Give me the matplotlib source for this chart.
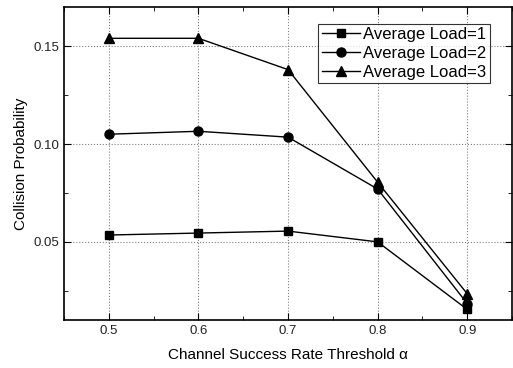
import numpy as np
import matplotlib.pyplot as plt
from matplotlib.ticker import MultipleLocator

plt.rcParams['font.family'] = ['Liberation Sans', 'DejaVu Sans']

# threshold values and collision probabilities per average load
alpha = [0.5, 0.6, 0.7, 0.8, 0.9]
load1 = [0.0535, 0.0545, 0.0555, 0.0500, 0.0155]
load2 = [0.1050, 0.1065, 0.1035, 0.0770, 0.0185]
load3 = [0.1540, 0.1540, 0.1380, 0.0805, 0.0235]

fig = plt.figure(figsize=(5.13, 3.68), dpi=100)
ax = fig.add_axes([0.125, 0.13, 0.873, 0.851])

ax.plot(alpha, load1, color='black', lw=1, marker='s', ms=6, label='Average Load=1')
ax.plot(alpha, load2, color='black', lw=1, marker='o', ms=6.5, label='Average Load=2')
ax.plot(alpha, load3, color='black', lw=1, marker='^', ms=7, label='Average Load=3')

ax.set_xlim(0.45, 0.95)
ax.set_ylim(0.01, 0.17)
ax.set_xticks([0.5, 0.6, 0.7, 0.8, 0.9])
ax.set_yticks([0.05, 0.10, 0.15])
ax.set_yticklabels(['0.05', '0.10', '0.15'])
ax.xaxis.set_minor_locator(MultipleLocator(0.05))
ax.yaxis.set_minor_locator(MultipleLocator(0.025))
ax.tick_params(which='both', direction='in', top=True, right=True,
               labelsize=9.5, labelcolor='#222222')
ax.tick_params(which='major', length=5)
ax.tick_params(which='minor', length=3)
ax.grid(True, which='major', linestyle=':', color='gray', lw=0.8)
for s in ax.spines.values():
    s.set_linewidth(1.2)

ax.set_xlabel('Channel Success Rate Threshold α', fontsize=11, labelpad=8)
ax.set_ylabel('Collision Probability', fontsize=11)
leg = ax.legend(loc='upper right', bbox_to_anchor=(0.951, 0.946), fontsize=12,
                frameon=True, fancybox=False, edgecolor='black',
                handlelength=2.3, borderpad=0.2, labelspacing=0.22,
                handletextpad=0.2, borderaxespad=0)
leg.get_frame().set_linewidth(0.8)

fig.savefig('out.png', dpi=100)
